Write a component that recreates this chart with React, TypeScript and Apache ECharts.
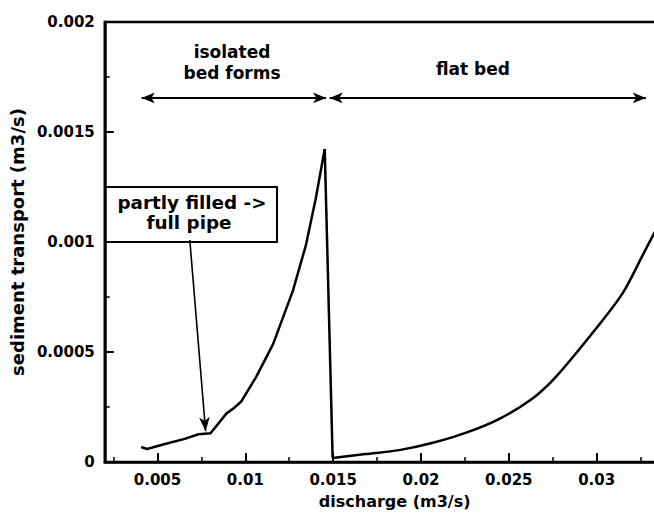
import React, { useEffect, useRef } from "react";
import * as echarts from "echarts";

// ---- data ----
const isolatedQ = [0.00407, 0.00441, 0.00537, 0.0065, 0.00734, 0.00802, 0.00893, 0.00932, 0.00977, 0.01062, 0.01158, 0.01271, 0.01345, 0.01401, 0.01452];
const isolatedS = [0.000068, 0.000059, 0.000081, 0.000104, 0.000126, 0.000131, 0.000221, 0.000243, 0.000275, 0.000387, 0.000536, 0.000779, 0.000986, 0.001198, 0.001423];
const flatQ = [0.01497, 0.01684, 0.01876, 0.02062, 0.02249, 0.02441, 0.02627, 0.02768, 0.03, 0.0315, 0.0326, 0.0334];
const flatS = [0.000018, 0.000036, 0.000054, 0.000086, 0.000131, 0.000194, 0.000284, 0.000387, 0.00061, 0.00077, 0.000937, 0.00106];

const xMajorTicks = [0.005, 0.01, 0.015, 0.02, 0.025, 0.03];
const xMajorLabels = ["0.005", "0.01", "0.015", "0.02", "0.025", "0.03"];
const xMinorTicks = [0.0025, 0.0075, 0.0125, 0.0175, 0.0225, 0.0275, 0.0325];
const yTicks = [0, 0.0005, 0.001, 0.0015, 0.002];
const yTickLabels = ["0", "0.0005", "0.001", "0.0015", "0.002"];

const regimeLines = ["isolated", "bed forms", "flat bed"];
const regimeFrom = [0.0041, 0.0148];
const regimeTo = [0.0146, 0.0328];
const regimeArrowS = 0.001655;

const pipeNote = ["partly filled ->", "full pipe"];
const pipeArrowFrom = [0.00684, 0.001009];
const pipeArrowTo = [0.00774, 0.00014];

const xTitle = "discharge (m3/s)";
const yTitle = "sediment transport (m3/s)";

const FONT = '"DejaVu Sans", sans-serif';

function nearestLabel(v: number, ticks: number[], labels: string[]) {
  let best = 0;
  for (let i = 0; i < ticks.length; i++) {
    if (Math.abs(ticks[i] - v) < Math.abs(ticks[best] - v)) best = i;
  }
  return labels[best];
}

function note(text: string, x: number, y: number, size: number, scaleX = 1) {
  return {
    type: "text",
    x,
    y,
    scaleX,
    style: {
      text,
      fontFamily: FONT,
      fontWeight: "bold",
      fontSize: size,
      fill: "#000",
      align: "center",
      verticalAlign: "middle",
    },
  };
}

export default function App() {
  const ref = useRef<HTMLDivElement>(null);
  useEffect(() => {
    const chart = echarts.init(ref.current!, null, { renderer: "svg" });
    const isolated = isolatedQ.map((q, i) => [q, isolatedS[i]]);
    const flat = flatQ.map((q, i) => [q, flatS[i]]);
    const drop = [isolated[isolated.length - 1], flat[0]];
    const lineStyle = { color: "#000", width: 2.5 };

    const option: any = {
      animation: false,
      backgroundColor: "#fff",
      grid: {
        left: 101,
        right: 15.5,
        top: 22,
        bottom: 48,
        show: true,
        borderColor: "#000",
        borderWidth: 2.5,
        backgroundColor: "transparent",
      },
      xAxis: [
        {
          type: "value",
          min: 0.002,
          max: 0.035,
          name: xTitle,
          nameLocation: "middle",
          nameGap: 31,
          nameTextStyle: { fontFamily: FONT, fontWeight: "bold", fontSize: 16, color: "#000" },
          axisLine: { show: true, lineStyle: { color: "#000", width: 2.5 } },
          axisTick: { show: true, inside: true, length: 9, customValues: xMajorTicks, lineStyle: { color: "#000", width: 2 } },
          axisLabel: {
            show: true,
            customValues: xMajorTicks,
            margin: 10,
            fontFamily: FONT,
            fontWeight: "bold",
            fontSize: 15,
            color: "#000",
            formatter: (v: number) => nearestLabel(v, xMajorTicks, xMajorLabels),
          },
          splitLine: { show: false },
        },
        {
          type: "value",
          min: 0.002,
          max: 0.035,
          position: "bottom",
          axisLine: { show: false },
          axisTick: { show: true, inside: true, length: 5, customValues: xMinorTicks, lineStyle: { color: "#000", width: 1.5 } },
          axisLabel: { show: false },
          splitLine: { show: false },
        },
      ],
      yAxis: {
        type: "value",
        min: 0,
        max: 0.002,
        interval: 0.0005,
        name: yTitle,
        nameLocation: "middle",
        nameGap: 73,
        nameTextStyle: { fontFamily: FONT, fontWeight: "bold", fontSize: 18, color: "#000" },
        axisLine: { show: true, lineStyle: { color: "#000", width: 2.5 } },
        axisTick: { show: true, inside: true, length: 9, lineStyle: { color: "#000", width: 2 } },
        minorTick: { show: true, splitNumber: 2, length: 5, lineStyle: { color: "#000", width: 1.5 } },
        axisLabel: {
          margin: 10,
          fontFamily: FONT,
          fontWeight: "bold",
          fontSize: 15,
          color: "#000",
          formatter: (v: number) => nearestLabel(v, yTicks, yTickLabels),
        },
        splitLine: { show: false },
        minorSplitLine: { show: false },
      },
      series: [
        {
          type: "line",
          data: isolated,
          symbol: "none",
          smooth: false,
          lineStyle,
          silent: true,
          markLine: {
            silent: true,
            animation: false,
            symbol: ["arrow", "arrow"],
            symbolSize: [8, 13],
            label: { show: false },
            emphasis: { disabled: true },
            lineStyle: { color: "#000", width: 2.2, type: "solid" },
            data: [
              [{ coord: [regimeFrom[0], regimeArrowS] }, { coord: [regimeTo[0], regimeArrowS] }],
              [{ coord: [regimeFrom[1], regimeArrowS] }, { coord: [regimeTo[1], regimeArrowS] }],
              [
                { coord: pipeArrowFrom, symbol: "none", lineStyle: { width: 1.6 } },
                { coord: pipeArrowTo, symbol: "arrow", symbolSize: [8, 14], lineStyle: { width: 1.6 } },
              ],
            ],
          },
        },
        { type: "line", data: drop, symbol: "none", lineStyle, silent: true },
        { type: "line", data: flat, symbol: "none", smooth: 0.3, lineStyle, silent: true },
      ],
      graphic: [
        note(regimeLines[0], 232, 52, 17),
        note(regimeLines[1], 232, 73, 17),
        note(regimeLines[2], 473, 69, 17),
        {
          type: "rect",
          shape: { x: 105, y: 187, width: 172, height: 55 },
          style: { fill: "#fff", stroke: "#000", lineWidth: 2 },
        },
        note(pipeNote[0], 192, 203, 17, 1.08),
        note(pipeNote[1], 189, 223, 17, 1.08),
      ],
    };
    chart.setOption(option);
    return () => chart.dispose();
  }, []);
  return (
    <div style={{ position: "fixed", left: 0, top: 0, width: 654, height: 514, overflow: "hidden", background: "#fff" }}>
      <div ref={ref} style={{ width: 700, height: 514 }} />
    </div>
  );
}
